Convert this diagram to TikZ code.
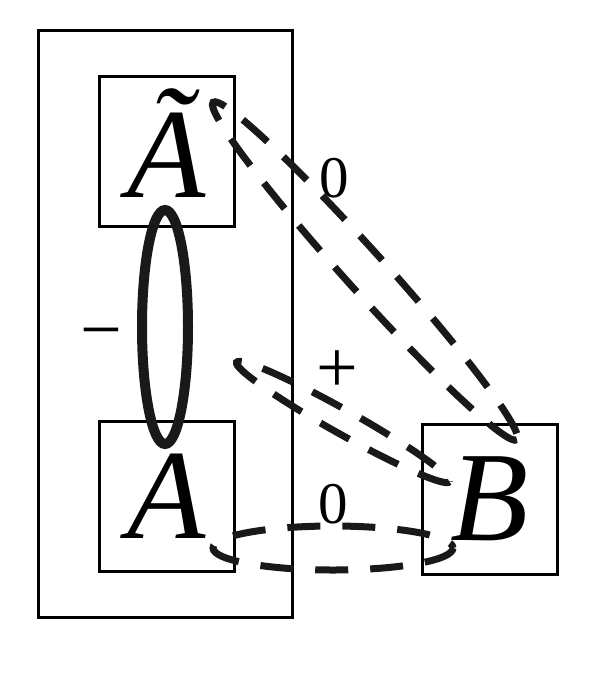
\documentclass[tikz,border=0pt]{standalone}
\usepackage{fontspec}
\setmainfont{Liberation Serif}
\usepackage{tikz}
\usetikzlibrary{positioning}

\tikzset{
  letterbox/.style={draw, line width=3pt, minimum width=135pt, minimum height=150pt, inner sep=0pt, font=\fontsize{128}{134}\selectfont\itshape},
  signlabel/.style={inner sep=0pt, font=\fontsize{59}{64}\selectfont},
  opsign/.style={inner sep=0pt, anchor=base, font=\fontsize{74}{80}\selectfont},
  dashloop/.style={draw=black!90, line width=7pt, dash pattern=on 33pt off 22pt}
}

\begin{document}
\begin{tikzpicture}[x=1pt, y=-1pt]
\useasboundingbox (0, 0) rectangle (614, 678);
\draw [line width=3pt] (38, 30) rectangle (292, 617);
\node [letterbox, text depth=16pt] (At) at (166.5, 151) {Ã};
\node [letterbox] (A) at (166.5, 496.5) {A};
\node [letterbox] (B) at (489.5, 499) {B};
% loops
\draw [draw=black!90, line width=10pt] (165, 327) ellipse [x radius=23, y radius=117];
\draw [dashloop, rotate around={-48:(365, 271)}] (365, 271) ellipse [x radius=227, y radius=20];
\draw [dashloop, rotate around={-29.3:(343, 422)}] (343, 422) ellipse [x radius=122, y radius=12];
\draw [dashloop] (333, 548) ellipse [x radius=120, y radius=22];
% signs
\node [signlabel] (zeroup) at (334, 178) {0};
\node [opsign] (plus) at (337, 392.5) {+};
\node [signlabel] (zerodown) at (333, 504) {0};
\node [opsign] (minus) at (101, 354.5) {−};
\end{tikzpicture}
\end{document}
